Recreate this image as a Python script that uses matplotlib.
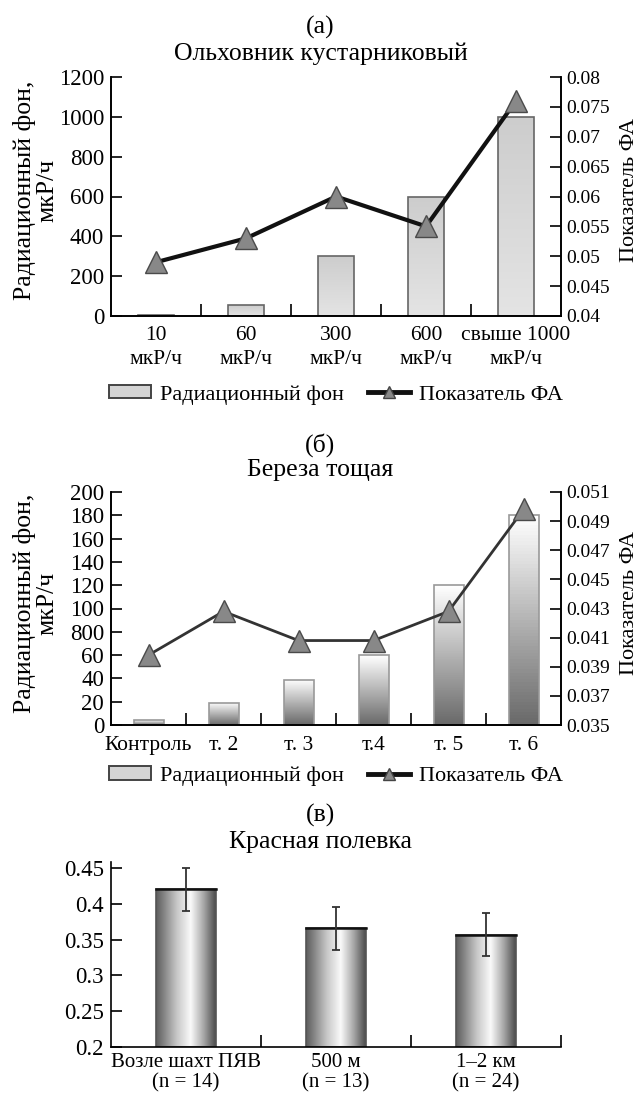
import numpy as np
import matplotlib.pyplot as plt
from matplotlib.patches import Patch
from matplotlib.lines import Line2D
from matplotlib.colors import LinearSegmentedColormap

plt.rcParams['font.family'] = ['Liberation Serif', 'DejaVu Serif']
plt.rcParams['font.size'] = 16

# panel (a)
cats_a = ['10\nмкР/ч', '60\nмкР/ч', '300\nмкР/ч', '600\nмкР/ч', 'свыше 1000\nмкР/ч']
bg_a = [5, 55, 300, 600, 1000]
fa_a = [0.049, 0.053, 0.060, 0.055, 0.076]
right_ticks_a = ['0.04', '0.045', '0.05', '0.055', '0.06', '0.065', '0.07', '0.075', '0.08']

# panel (б)
cats_b = ['Контроль', 'т. 2', 'т. 3', 'т.4', 'т. 5', 'т. 6']
bg_b = [4, 19, 39, 60, 120, 180]
fa_b = [0.0398, 0.0428, 0.0408, 0.0408, 0.0428, 0.0498]
left_ticks_b = ['0', '20', '40', '60', '800', '100', '120', '140', '160', '180', '200']
right_ticks_b = ['0.035', '0.037', '0.039', '0.041', '0.043', '0.045', '0.047', '0.049', '0.051']

# panel (в)
cats_c = ['Возле шахт ПЯВ\n(n = 14)', '500 м\n(n = 13)', '1–2 км\n(n = 24)']
fa_c = [0.42, 0.366, 0.357]
err_c = [0.030, 0.030, 0.030]
ticks_c = ['0.2', '0.25', '0.3', '0.35', '0.4', '0.45']

fig = plt.figure(figsize=(6.41, 10.99), dpi=100)
H = 1099.0
W = 641.0


def gradient_bars(ax, bars, cmap, vertical=True):
    for b in bars:
        x, y = b.get_x(), b.get_y()
        w, h = b.get_width(), b.get_height()
        if vertical:
            img = np.linspace(0, 1, 64).reshape(-1, 1)
        else:
            img = np.linspace(0, 1, 64).reshape(1, -1)
        im = ax.imshow(img, extent=[x, x + w, y, y + h], origin='lower',
                       cmap=cmap, aspect='auto', zorder=1)
        im.set_clip_path(b)


def style_axes(ax, ncat, xpad=6):
    ax.set_xlim(-0.5, ncat - 0.5)
    ax.set_xticks(np.arange(ncat))
    ax.tick_params(axis='x', length=0, pad=xpad, labelsize=15.5)
    ax.set_xticks(np.arange(ncat - 1) + 0.5, minor=True)
    ax.tick_params(axis='x', which='minor', direction='in', length=9, width=1.2)
    ax.tick_params(axis='y', direction='in', length=8, width=1.2, pad=5, labelsize=16.5)
    ax.spines['top'].set_visible(False)
    for s in ax.spines.values():
        s.set_linewidth(1.2)


def legend_below(ax, y):
    handles = [Patch(facecolor='#d4d4d4', edgecolor='#444444', linewidth=1.4),
               Line2D([], [], color='#111111', lw=3.5, marker='^',
                      markersize=9, markerfacecolor='#888888', markeredgecolor='#444444')]
    ax.legend(handles, ['Радиационный фон', 'Показатель ФА'], loc='center',
              bbox_to_anchor=(0.5, y), ncol=2, frameon=False,
              handlelength=1.9, handleheight=0.55, columnspacing=1.1,
              handletextpad=0.4, fontsize=16)


def right_axis(ax, fa, lw, lc, lo, hi, labels):
    ax2 = ax.twinx()
    ax2.plot(np.arange(len(fa)), fa, color=lc, lw=lw, marker='^', markersize=16,
             markerfacecolor='#888888', markeredgecolor='#4a4a4a', zorder=3)
    ax2.set_ylim(lo, hi)
    ax2.set_yticks(np.linspace(lo, hi, len(labels)))
    ax2.set_yticklabels(labels)
    ax2.tick_params(axis='y', direction='in', length=8, width=1.2, pad=4, labelsize=14)
    ax2.spines['top'].set_visible(False)
    for s in ax2.spines.values():
        s.set_linewidth(1.2)
    return ax2


def ylabels(ycen):
    fig.text(36 / W, 1 - ycen / H, 'Радиационный фон,\nмкР/ч', rotation=90,
             ha='center', va='center', fontsize=18.5, linespacing=1.05,
             multialignment='center')
    fig.text(629 / W, 1 - ycen / H, 'Показатель ФА', rotation=90,
             ha='center', va='center', fontsize=16)


# ---- (a)
ax = fig.add_axes([111 / W, 1 - 316 / H, 450 / W, 239 / H])
x = np.arange(len(cats_a))
bars = ax.bar(x, bg_a, width=0.4, facecolor='none', edgecolor='#666666', lw=1.2, zorder=2)
cm_a = LinearSegmentedColormap.from_list('a', ['#e4e4e4', '#cdcdcd'])
style_axes(ax, len(cats_a), xpad=7)
gradient_bars(ax, bars, cm_a)
ax.set_ylim(0, 1200)
ax.set_yticks(np.arange(0, 1201, 200))
ax.set_xticklabels(cats_a, linespacing=1.4)
right_axis(ax, fa_a, 3, '#111111', 0.04, 0.08, right_ticks_a)
legend_below(ax, -0.33)
ylabels(190)
fig.text(0.5, 1 - 27 / H, '(a)', ha='center', va='center', fontsize=18.5)
fig.text(0.5, 1 - 54 / H, 'Ольховник кустарниковый', ha='center', va='center', fontsize=18.5)

# ---- (б)
ax = fig.add_axes([111 / W, 1 - 725 / H, 450 / W, 233 / H])
x = np.arange(len(cats_b))
bars = ax.bar(x, bg_b, width=0.4, facecolor='none', edgecolor='#999999', lw=1.2, zorder=2)
cm_b = LinearSegmentedColormap.from_list('b', ['#6a6a6a', '#b4b4b4', '#ffffff'])
style_axes(ax, len(cats_b), xpad=8)
gradient_bars(ax, bars, cm_b)
ax.set_ylim(0, 200)
ax.set_yticks(np.arange(0, 201, 20))
ax.set_yticklabels(left_ticks_b)
ax.set_xticklabels(cats_b)
right_axis(ax, fa_b, 2, '#333333', 0.035, 0.051, right_ticks_b)
legend_below(ax, -0.22)
ylabels(603)
fig.text(0.5, 1 - 445 / H, '(б)', ha='center', va='center', fontsize=18.5)
fig.text(0.5, 1 - 470 / H, 'Береза тощая', ha='center', va='center', fontsize=18.5)

# ---- (в)
ax = fig.add_axes([111 / W, 1 - 1047 / H, 450 / W, 185 / H])
x = np.arange(len(cats_c))
bars = ax.bar(x, np.array(fa_c) - 0.2, bottom=0.2, width=0.4, facecolor='none',
              edgecolor='#555555', lw=1.2, zorder=2)
cm_c = LinearSegmentedColormap.from_list(
    'c', [(0, '#5e5e5e'), (0.35, '#c8c8c8'), (0.58, '#fafafa'), (0.8, '#a8a8a8'), (1, '#4e4e4e')])
for b in bars:
    ax.plot([b.get_x(), b.get_x() + b.get_width()], [b.get_y() + b.get_height()] * 2,
            color='#111111', lw=1.8, zorder=3)
ax.errorbar(x, fa_c, yerr=err_c, fmt='none', ecolor='#333333', elinewidth=1.3,
            capsize=3, capthick=1.3, zorder=4)
style_axes(ax, len(cats_c), xpad=4)
ax.set_xticks([0.5, 1.5, 2.5], minor=True)
gradient_bars(ax, bars, cm_c, vertical=False)
ax.set_ylim(0.2, 0.4584)
ax.set_yticks(np.linspace(0.2, 0.45, 6))
ax.set_yticklabels(ticks_c)
ax.set_xticklabels(cats_c, linespacing=1.15, fontsize=15)
ax.spines['right'].set_visible(False)
fig.text(0.5, 1 - 815 / H, '(в)', ha='center', va='center', fontsize=18.5)
fig.text(0.5, 1 - 842 / H, 'Красная полевка', ha='center', va='center', fontsize=18.5)

fig.savefig('out.png', dpi=100)
